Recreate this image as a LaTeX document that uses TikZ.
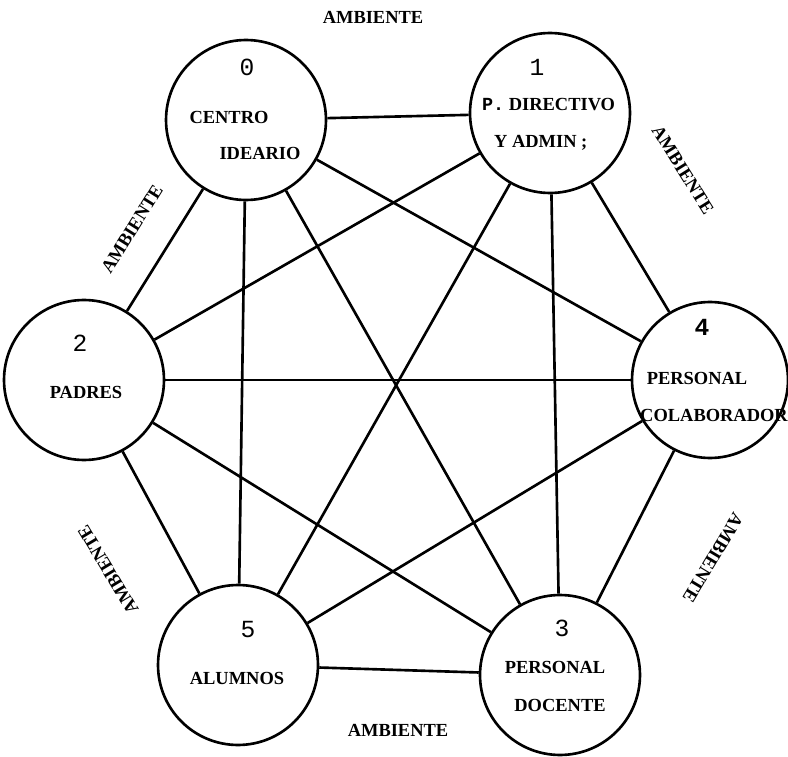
\documentclass[tikz,border=0pt]{standalone}
\usepackage{fontspec}
\setmainfont{Liberation Serif}
\newfontfamily\tyfont{Liberation Mono}
\usepackage{tikz}
\usetikzlibrary{positioning}

\begin{document}
\begin{tikzpicture}[x=0.02cm, y=-0.02cm,
    circ/.style={circle, draw=black, line width=1.5pt, inner sep=0pt, minimum size=3.2cm},
    lbl/.style={font=\fontsize{10.5}{11}\selectfont\bfseries, inner sep=1pt},
    num/.style={font=\tyfont\fontsize{14}{15}\selectfont, inner sep=1pt},
    amb/.style={font=\fontsize{10.5}{11}\selectfont\bfseries, inner sep=1pt},
    enl/.style={line width=1.5pt}
  ]
    \useasboundingbox (0,0) rectangle (788,757);
    % circulos
    \node[circ] (c0) at (246,120) {};
    \node[circ] (c1) at (550,113) {};
    \node[circ] (c2) at (84,380) {};
    \node[circ, minimum size=3.12cm] (c4) at (710,380) {};
    \node[circ] (c5) at (238,665) {};
    \node[circ] (c3) at (560,675) {};
    % textos
    \node[num] (n0) at (247,67) {0};
    \node[lbl] (t0a) at (229,117) {CENTRO};
    \node[lbl] (t0b) at (260,153) {IDEARIO};
    \node[num] (n1) at (537,67) {1};
    \node[lbl, anchor=west] (t1a) at (480,105) {{\tyfont P.} DIRECTIVO};
    \node[lbl, anchor=west] (t1b) at (492,143) {Y ADMIN ;};
    \node[num] (n2) at (80,343) {2};
    \node[lbl] (t2a) at (86,392) {PADRES};
    \node[num] (n4) at (702,327) {\bfseries 4};
    \node[lbl] (t4a) at (697,378) {PERSONAL};
    \node[lbl] (t4b) at (714,415) {COLABORADOR};
    \node[num] (n5) at (248,630) {5};
    \node[lbl] (t5a) at (237,678) {ALUMNOS};
    \node[num] (n3) at (562,628) {3};
    \node[lbl] (t3a) at (555,667) {PERSONAL};
    \node[lbl] (t3b) at (560,705) {DOCENTE};
    % ambiente
    \node[amb] (amb1) at (373,17) {AMBIENTE};
    \node[amb, rotate=58] (amb2) at (132,229) {AMBIENTE};
    \node[amb, rotate=-58] (amb3) at (683,170) {AMBIENTE};
    \node[amb, rotate=121] (amb4) at (108,570) {AMBIENTE};
    \node[amb, rotate=-121] (amb5) at (713,558) {AMBIENTE};
    \node[amb] (amb6) at (398,730) {AMBIENTE};
    % relaciones
    \draw[enl] (c0) -- (c1);
    \draw[enl] (c0) -- (c2);
    \draw[enl] (c0) -- (c4);
    \draw[enl] (c0) -- (c5);
    \draw[enl] (c0) -- (c3);
    \draw[enl] (c1) -- (c2);
    \draw[enl] (c1) -- (c4);
    \draw[enl] (c1) -- (c5);
    \draw[enl] (c1) -- (c3);
    \draw[enl] (c2) -- (c4);
    \draw[enl] (c2) -- (c5);
    \draw[enl] (c2) -- (c3);
    \draw[enl] (c4) -- (c5);
    \draw[enl] (c4) -- (c3);
    \draw[enl] (c5) -- (c3);
  \end{tikzpicture}
\end{document}
